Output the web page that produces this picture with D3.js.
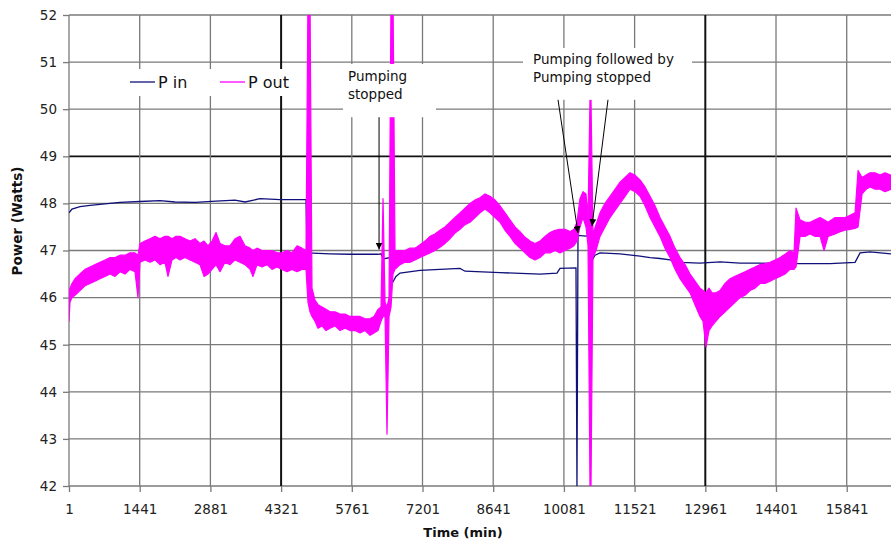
<!DOCTYPE html>
<html><head><meta charset="utf-8">
<script src="https://cdn.jsdelivr.net/npm/d3@7"></script>
<style>
html,body{margin:0;padding:0;background:#fff;}
svg{display:block;font-family:"DejaVu Sans",Verdana,sans-serif;}
</style>
</head><body>
<svg id="chart" width="891" height="544"></svg>
<script>
// ---------------- data ----------------
const xTickValues = [1,1441,2881,4321,5761,7201,8641,10081,11521,12961,14401,15841];
const yTickValues = [42,43,44,45,46,47,48,49,50,51,52];
const darkXGrid = [4321,12961];
const darkYGrid = [49];
const seriesNames = ["P in","P out"];

// P in : [time (min), power (W)]
const pinSeries = [
 [1,47.8],[62,47.88],[225,47.93],[429,47.96],[632,47.98],[1040,48.02],[1447,48.04],[1854,48.06],
 [2160,48.03],[2568,48.02],[2996,48.05],[3382,48.07],[3586,48.03],[3891,48.1],[4299,48.08],[4828,48.08],
 [4850,46.95],[5317,46.93],[5724,46.92],[6295,46.92],[6356,46.93],[6400,46.82],[6539,46.85],[6580,46.3],
 [6661,46.45],[6743,46.52],[7150,46.58],[7557,46.6],[7965,46.62],[8067,46.56],[8780,46.53],[9594,46.5],
 [9940,46.52],[10001,46.62],[10327,46.63],[10347,42.0],[10368,47.32],[10592,47.3],[10633,46.75],[10714,46.9],
 [10816,46.95],[11224,46.93],[11631,46.88],[11835,46.85],[12038,46.83],[12242,46.8],[12446,46.75],[12853,46.73],
 [13261,46.76],[13668,46.73],[14076,46.73],[14483,46.72],[14891,46.72],[15502,46.72],[16011,46.75],[16113,46.95],
 [16316,46.97],[16743,46.93]
];

// P out : [time (min), low (W), high (W)] – envelope of the noisy trace
const poutSeries = [
 [1,45.5,46.1],[21,45.9,46.2],[62,46.0,46.3],[123,46.05,46.4],[225,46.15,46.5],[327,46.25,46.6],[429,46.3,46.65],
 [530,46.35,46.7],[632,46.4,46.75],[734,46.45,46.8],[836,46.5,46.85],[938,46.45,46.85],[1040,46.55,46.9],
 [1141,46.5,46.9],[1243,46.6,46.95],[1345,46.55,46.95],[1406,46.0,46.9],[1447,46.75,47.15],[1549,46.8,47.2],
 [1651,46.75,47.25],[1753,46.8,47.3],[1854,46.7,47.25],[1956,46.75,47.3],[2017,46.45,47.3],[2099,46.8,47.25],
 [2180,46.85,47.3],[2262,46.8,47.3],[2364,46.85,47.25],[2466,46.8,47.2],[2568,46.75,47.25],[2669,46.7,47.15],
 [2751,46.45,47.2],[2832,46.5,47.1],[2914,46.6,47.2],[2996,46.7,47.38],[3077,46.55,47.15],[3179,46.75,47.1],
 [3280,46.7,47.1],[3382,46.8,47.25],[3484,46.75,47.3],[3586,46.7,47.1],[3688,46.6,47.05],[3749,46.45,47.0],
 [3830,46.7,47.05],[3932,46.65,47.0],[4034,46.7,47.0],[4136,46.6,47.0],[4238,46.65,46.95],[4339,46.6,46.95],
 [4441,46.55,47.0],[4543,46.6,46.95],[4645,46.55,47.1],[4747,46.6,47.05],[4828,46.6,47.0],
 [4869,45.9,52.5],[4909,45.7,52.5],[4950,45.6,46.2],[5011,45.5,45.95],[5073,45.35,45.85],[5154,45.4,45.8],
 [5236,45.3,45.75],[5317,45.35,45.7],[5419,45.4,45.7],[5521,45.3,45.65],[5623,45.35,45.65],[5724,45.3,45.6],
 [5826,45.3,45.6],[5928,45.25,45.6],[6030,45.3,45.55],[6132,45.2,45.55],[6213,45.25,45.6],[6295,45.3,45.75],
 [6356,45.5,45.8],[6397,45.6,48.1],[6438,45.6,45.9],[6478,43.1,45.8],[6519,45.6,46.0],[6560,45.8,52.5],
 [6600,46.5,52.5],[6641,46.6,47.0],[6743,46.7,47.0],[6845,46.75,47.0],[6946,46.75,47.05],[7048,46.8,47.05],
 [7150,46.85,47.12],[7252,46.9,47.2],[7354,46.95,47.3],[7455,47.0,47.35],[7557,47.07,47.43],[7659,47.15,47.5],
 [7761,47.25,47.6],[7863,47.37,47.7],[7965,47.45,47.8],[8067,47.55,47.9],[8169,47.6,48.0],[8270,47.7,48.07],
 [8372,47.8,48.12],[8474,47.88,48.2],[8576,47.8,48.15],[8678,47.7,48.07],[8780,47.6,47.95],[8881,47.43,47.8],
 [8983,47.3,47.65],[9085,47.15,47.5],[9187,47.05,47.4],[9289,46.95,47.28],[9391,46.85,47.2],[9492,46.8,47.15],
 [9594,46.85,47.2],[9696,46.95,47.3],[9798,46.95,47.38],[9900,47.0,47.43],[10001,46.95,47.45],[10103,47.0,47.45],
 [10205,47.05,47.4],[10286,47.1,47.45],[10347,47.2,47.6],[10408,47.5,48.1],[10469,47.7,48.25],[10531,47.5,48.2],
 [10572,47.1,47.7],[10612,42.0,50.2],[10633,42.0,50.2],[10673,46.85,47.35],[10735,47.0,47.55],[10816,47.3,47.8],
 [10918,47.5,48.0],[11020,47.7,48.15],[11122,47.85,48.3],[11224,48.0,48.45],[11326,48.15,48.55],[11427,48.3,48.65],
 [11529,48.25,48.6],[11631,48.15,48.5],[11733,47.95,48.35],[11835,47.7,48.15],[11937,47.5,47.95],[12038,47.3,47.7],
 [12140,47.05,47.5],[12242,46.85,47.3],[12344,46.6,47.05],[12446,46.4,46.85],[12548,46.25,46.7],[12650,46.1,46.5],
 [12751,45.85,46.35],[12853,45.6,46.2],[12914,45.5,46.15],[12975,44.95,46.1],[13036,45.3,46.2],[13098,45.4,46.1],
 [13179,45.5,46.1],[13261,45.6,46.15],[13363,45.7,46.3],[13465,45.8,46.4],[13566,45.9,46.45],[13668,46.0,46.5],
 [13770,46.05,46.55],[13872,46.15,46.6],[13974,46.2,46.65],[14076,46.3,46.7],[14178,46.3,46.72],[14280,46.35,46.75],
 [14381,46.4,46.8],[14483,46.45,46.85],[14585,46.5,46.92],[14687,46.6,47.0],[14768,46.6,46.95],[14809,46.65,47.9],
 [14891,47.3,47.65],[14993,47.3,47.6],[15095,47.35,47.6],[15197,47.3,47.65],[15298,47.3,47.7],[15380,47.0,47.65],
 [15462,47.3,47.6],[15604,47.35,47.7],[15706,47.4,47.7],[15808,47.43,47.7],[15910,47.45,47.75],[16011,47.47,47.8],
 [16072,47.5,48.7],[16154,48.2,48.55],[16235,48.3,48.6],[16316,48.35,48.65],[16418,48.3,48.65],[16520,48.3,48.6],
 [16621,48.25,48.65],[16743,48.3,48.6]
];

// annotations: text anchor [time, value], lines; arrows [fromTime, fromValue, toTime, toValue]
const noteText1 = ["Pumping","stopped"];
const noteText2 = ["Pumping followed by","Pumping stopped"];
const noteArrows = [[6316,49.83,6316,47.02],[9961,50.2,10368,47.37],[10979,50.2,10653,47.52]];

// ---------------- layout ----------------
const W = 891, H = 544;
const M = {left:69, top:15, right:0, bottom:58};
const iw = W - M.left - M.right, ih = H - M.top - M.bottom;

const svg = d3.select("#chart");
const x = d3.scaleLinear().domain([1,16743]).range([0, iw]);
const y = d3.scaleLinear().domain([42,52]).range([ih, 0]);

const defs = svg.append("defs");
defs.append("clipPath").attr("id","plotclip").append("rect")
  .attr("x",0).attr("y",0).attr("width",iw).attr("height",ih);
defs.append("marker").attr("id","arrow").attr("viewBox","0 0 10 10")
  .attr("refX",10).attr("refY",5).attr("markerWidth",7).attr("markerHeight",7)
  .attr("markerUnits","userSpaceOnUse").attr("orient","auto")
  .append("path").attr("d","M0,0 L10,5 L0,10 z").attr("fill","#000");

const g = svg.append("g").attr("transform",`translate(${M.left},${M.top})`);

// gridlines
const grid = g.append("g");
grid.selectAll("line.h").data(yTickValues).join("line")
  .attr("x1",0).attr("x2",iw)
  .attr("y1",d=>y(d)).attr("y2",d=>y(d))
  .attr("stroke",d=>darkYGrid.includes(d)?"#111":"#7a7a7a")
  .attr("stroke-width",d=>darkYGrid.includes(d)?1.8:1.3);
grid.selectAll("line.v").data(xTickValues).join("line")
  .attr("y1",0).attr("y2",ih)
  .attr("x1",d=>x(d)).attr("x2",d=>x(d))
  .attr("stroke",d=>darkXGrid.includes(d)?"#111":"#7a7a7a")
  .attr("stroke-width",d=>darkXGrid.includes(d)?2:1.3);

// axes (ticks + labels)
const xAxis = g.append("g").attr("transform",`translate(0,${ih})`)
  .call(d3.axisBottom(x).tickValues(xTickValues).tickSize(6).tickSizeOuter(0).tickFormat(d3.format("d")));
xAxis.select(".domain").remove();
xAxis.selectAll(".tick line").attr("stroke","#7a7a7a").attr("stroke-width",1.3);
xAxis.selectAll(".tick text").attr("dy",null).attr("y",28)
  .attr("font-size",13.5).attr("fill","#222").attr("font-family","DejaVu Sans");

const yAxis = g.append("g")
  .call(d3.axisLeft(y).tickValues(yTickValues).tickSize(6).tickSizeOuter(0).tickPadding(6));
yAxis.select(".domain").remove();
yAxis.selectAll(".tick line").attr("stroke","#7a7a7a").attr("stroke-width",1.3);
yAxis.selectAll(".tick text").attr("font-size",13.5).attr("fill","#222").attr("font-family","DejaVu Sans");

// series
const plot = g.append("g").attr("clip-path","url(#plotclip)");
const pinLine = d3.line().x(d=>x(d[0])).y(d=>y(d[1]));
const poutArea = d3.area().x(d=>x(d[0])).y0(d=>y(d[1])).y1(d=>y(d[2]));

plot.append("path").datum(pinSeries).attr("d",pinLine)
  .attr("fill","none").attr("stroke","#10107a").attr("stroke-width",1.3);
plot.append("path").datum(poutSeries).attr("d",poutArea)
  .attr("fill","#ff00ff").attr("stroke","#ff00ff").attr("stroke-width",1.2).attr("stroke-linejoin","round");

// annotation boxes
const ann = g.append("g");
function noteBox(t0,v0,t1,v1){
  ann.append("rect").attr("x",x(t0)).attr("y",y(v0))
    .attr("width",x(t1)-x(t0)).attr("height",y(v1)-y(v0)).attr("fill","#fff");
}
noteBox(5582,50.96,7476,49.83);
noteBox(9248,51.3,12690,50.2);
function noteText(t,v,lines){
  const tx = ann.append("text").attr("x",x(t)).attr("y",y(v))
    .attr("font-size",13.5).attr("fill","#111");
  lines.forEach((l,i)=>tx.append("tspan").attr("x",x(t)).attr("dy",i?18.5:0).text(l));
}
noteText(5684,50.6,noteText1);
noteText(9452,50.96,noteText2);
ann.selectAll("line.arrow").data(noteArrows).join("line")
  .attr("x1",d=>x(d[0])).attr("y1",d=>y(d[1]))
  .attr("x2",d=>x(d[2])).attr("y2",d=>y(d[3]))
  .attr("stroke","#000").attr("stroke-width",1).attr("marker-end","url(#arrow)");

// legend
const lg = svg.append("g").attr("transform","translate(122,69)");
lg.append("rect").attr("width",175).attr("height",27).attr("fill","#fff");
const legendColors = ["#10107a","#ff00ff"];
const legendX = [8,98];
seriesNames.forEach((n,i)=>{
  lg.append("line").attr("x1",legendX[i]).attr("x2",legendX[i]+25)
    .attr("y1",13).attr("y2",13).attr("stroke",legendColors[i]).attr("stroke-width",1.3);
  lg.append("text").attr("x",legendX[i]+28).attr("y",19)
    .attr("font-size",16).attr("fill","#111").text(n);
});

// axis titles
svg.append("text").attr("x",463).attr("y",537).attr("text-anchor","middle")
  .attr("font-size",13).attr("font-weight","bold").attr("fill","#111").text("Time (min)");
svg.append("text").attr("transform","translate(22,221) rotate(-90)").attr("text-anchor","middle")
  .attr("font-size",13.5).attr("font-weight","bold").attr("fill","#111").text("Power (Watts)");
</script>
</body></html>
